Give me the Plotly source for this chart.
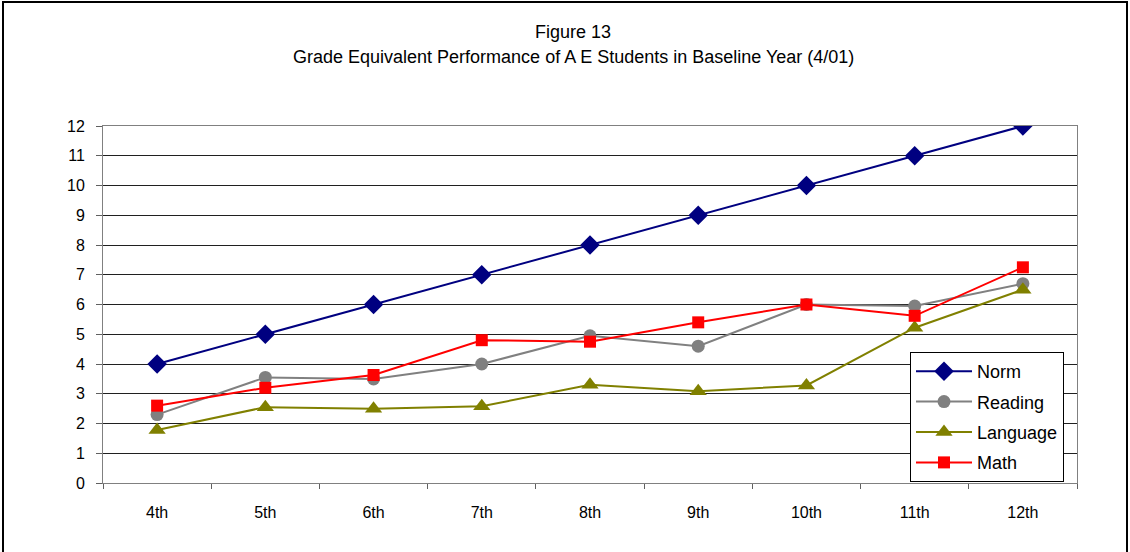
import plotly.graph_objects as go

grades = ["4th", "5th", "6th", "7th", "8th", "9th", "10th", "11th", "12th"]
norm = [4, 5, 6, 7, 8, 9, 10, 11, 12]
reading = [2.3, 3.55, 3.5, 4.0, 4.95, 4.6, 6.0, 5.95, 6.7]
language = [1.78, 2.55, 2.5, 2.58, 3.3, 3.08, 3.28, 5.22, 6.5]
math_ = [2.6, 3.2, 3.63, 4.8, 4.75, 5.4, 6.0, 5.62, 7.25]
y_ticks = list(range(0, 13))
title_lines = ["Figure 13", "Grade Equivalent Performance of A E Students in Baseline Year (4/01)"]

FONT = "Liberation Sans, Arial, sans-serif"

fig = go.Figure()
series = [
    ("Norm", norm, "#000080", "diamond", 15),
    ("Reading", reading, "#808080", "circle", 13),
    ("Language", language, "#808000", "triangle-up", 15),
    ("Math", math_, "#FF0000", "square", 12),
]
for name, vals, color, sym, size in series:
    fig.add_trace(go.Scatter(
        x=grades, y=vals, name=name, mode="lines+markers", legendgroup=name,
        line=dict(color=color, width=2),
        marker=dict(symbol=sym, size=size, color=color),
    ))

L, R, T, B = 103, 53, 126, 69
W, H = 1130, 552
pw, ph = W - L - R, H - T - B

fig.update_layout(
    width=W, height=H,
    margin=dict(l=L, r=R, t=T, b=B),
    paper_bgcolor="white", plot_bgcolor="white",
    font=dict(family=FONT, color="black", size=16),
    showlegend=True,
    legend=dict(
        x=(910 - L) / pw, y=(H - B - 352) / ph, xanchor="left", yanchor="top",
        bordercolor="black", borderwidth=1, bgcolor="white",
        font=dict(family=FONT, size=18, color="black"),
        itemwidth=56, traceorder="grouped", tracegroupgap=4,
    ),
    xaxis=dict(
        type="category", showgrid=False, tickson="boundaries",
        ticks="outside", ticklen=5, tickcolor="#606060",
        showline=True, linecolor="#808080", linewidth=1, mirror=True,
        tickfont=dict(size=16), range=[-0.5, 8.5], fixedrange=True,
        ticklabelstandoff=15,
    ),
    yaxis=dict(
        range=[0, 12], tickvals=y_ticks, showgrid=True, gridcolor="#202020", gridwidth=1,
        ticks="outside", ticklen=6, tickcolor="#606060",
        showline=True, linecolor="#808080", linewidth=1, mirror=True,
        zeroline=False, tickfont=dict(size=16), ticklabelstandoff=8,
    ),
)

# Title lines as annotations (pixel-placed)
for txt, ypix in zip(title_lines, [32, 57]):
    fig.add_annotation(
        text=txt, xref="paper", yref="paper",
        x=(573 - L) / pw, y=(H - B - ypix) / ph,
        xanchor="center", yanchor="middle", showarrow=False,
        font=dict(family=FONT, size=18, color="black"),
    )

# Outer chart frame
fig.add_shape(
    type="rect", xref="paper", yref="paper",
    x0=(3 - L) / pw, x1=(1127 - L) / pw,
    y0=(H - B - 560) / ph, y1=(H - B - 2) / ph,
    line=dict(color="black", width=2), fillcolor="rgba(0,0,0,0)", layer="above",
)

fig.write_html(
    "out.html",
    config={"displayModeBar": False},
    post_script="document.body.style.margin='0';document.body.style.padding='0';",
)
